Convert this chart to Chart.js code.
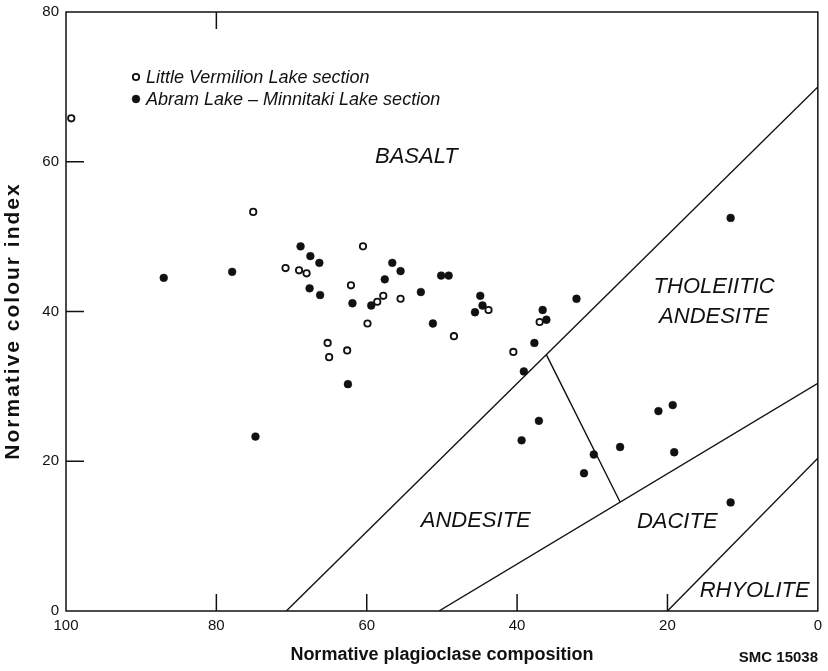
<!DOCTYPE html>
<html>
<head>
<meta charset="utf-8">
<script src="https://cdn.jsdelivr.net/npm/chart.js@4.4.1/dist/chart.umd.min.js"></script>
<style>
  html, body { margin: 0; padding: 0; background: #fff; }
</style>
</head>
<body>
<canvas id="chart" width="828" height="671"></canvas>
<script>
// Little Vermilion Lake section (open circles)
const lvPlag   = [99.3, 75.1, 70.8, 69.0, 68.0, 65.2, 65.0, 62.6, 60.5, 62.1, 59.9, 57.8, 58.6, 55.5, 48.4, 43.8, 40.5, 37.0]
const lvColour = [65.8, 53.3, 45.8, 45.5, 45.1, 35.8, 33.9, 34.8, 48.7, 43.5, 38.4, 42.1, 41.3, 41.7, 36.7, 40.2, 34.6, 38.6]

// Abram Lake - Minnitaki Lake section (filled dots)
const amPlag   = [87.0, 77.9, 74.8, 68.8, 67.5, 66.3, 67.6, 66.2, 62.5, 61.9, 59.4, 57.6, 56.6, 55.5, 52.8, 50.1, 49.1, 51.2,
                  44.9, 44.6, 45.6, 36.6, 36.1, 37.7, 39.1, 32.1, 11.6, 37.1, 39.4, 29.8, 31.1, 26.3, 21.2, 19.3, 19.1, 11.6]
const amColour = [44.5, 45.3, 23.3, 48.7, 47.4, 46.5, 43.1, 42.2, 30.3, 41.1, 40.8, 44.3, 46.5, 45.4, 42.6, 44.8, 44.8, 38.4,
                  42.1, 40.8, 39.9, 40.2, 38.9, 35.8, 32.0, 41.7, 52.5, 25.4, 22.8, 20.9, 18.4, 21.9, 26.7, 27.5, 21.2, 14.5]

// field boundaries: [plagioclase, colour index] end points
const basaltEdge   = [[70.7, 0], [0, 70]]
const daciteEdge   = [[50.4, 0], [0, 30.4]]
const rhyoliteEdge = [[20, 0], [0, 20.4]]
const tholeiiteEdge = [[36.1, 34.2], [26.3, 14.55]]

const xTicks = [100, 80, 60, 40, 20, 0]
const yTicks = [0, 20, 40, 60, 80]

const seriesNames = ['Little Vermilion Lake section', 'Abram Lake \u2013 Minnitaki Lake section']

// rock field names, placed in data units
const fieldNames = [
    { text: 'BASALT', x: 53.4, y: 60.6 },
    { text: 'THOLEIITIC', x: 13.8, y: 43.3 },
    { text: 'ANDESITE', x: 13.8, y: 39.3 },
    { text: 'ANDESITE', x: 45.5, y: 12.1 },
    { text: 'DACITE', x: 18.7, y: 11.9 },
    { text: 'RHYOLITE', x: 8.4, y: 2.7 },
]

const toPoints = (xs, ys) => xs.map((v, i) => ({ x: v, y: ys[i] }))
const toSegment = (seg) => seg.map(p => ({ x: p[0], y: p[1] }))

const ink = '#111'
const family = '"Liberation Sans", Arial, sans-serif'

const boundaryStyle = {
    type: 'line',
    showLine: true,
    borderColor: ink,
    borderWidth: 1.4,
    pointRadius: 0,
    fill: false,
}

// box round the plot plus the short inward tick marks
const frame = {
    id: 'frame',
    afterDatasetsDraw(chart) {
        const { ctx, chartArea: a, scales: { x, y } } = chart
        ctx.save()
        ctx.strokeStyle = ink
        ctx.lineWidth = 1.5
        ctx.strokeRect(a.left, a.top, a.right - a.left, a.bottom - a.top)
        ctx.beginPath()
        ;[80, 60, 40, 20].forEach(v => {
            const px = x.getPixelForValue(v)
            ctx.moveTo(px, a.bottom)
            ctx.lineTo(px, a.bottom - 17)
        })
        const topX = x.getPixelForValue(80)
        ctx.moveTo(topX, a.top)
        ctx.lineTo(topX, a.top + 17)
        ;[60, 40, 20].forEach(v => {
            const py = y.getPixelForValue(v)
            ctx.moveTo(a.left, py)
            ctx.lineTo(a.left + 18, py)
        })
        ctx.stroke()
        ctx.restore()
    }
}

const fieldLabels = {
    id: 'fieldLabels',
    afterDatasetsDraw(chart) {
        const { ctx, scales: { x, y } } = chart
        ctx.save()
        ctx.fillStyle = ink
        ctx.font = 'italic 22px ' + family
        ctx.textAlign = 'center'
        ctx.textBaseline = 'middle'
        fieldNames.forEach(f => ctx.fillText(f.text, x.getPixelForValue(f.x), y.getPixelForValue(f.y)))

        // legend, top left of the plot
        const ds = chart.data.datasets
        ctx.textAlign = 'left'
        ctx.font = 'italic 18px ' + family
        ;[0, 1].forEach(i => {
            const ly = 77 + i * 22
            ctx.beginPath()
            ctx.arc(136, ly, ds[i].pointRadius, 0, Math.PI * 2)
            ctx.fillStyle = ds[i].pointBackgroundColor
            ctx.fill()
            ctx.lineWidth = ds[i].pointBorderWidth
            ctx.strokeStyle = ink
            ctx.stroke()
            ctx.fillStyle = ink
            ctx.fillText(seriesNames[i], 146, ly + 1)
        })

        ctx.font = 'bold 15px ' + family
        ctx.textAlign = 'right'
        ctx.fillText('SMC 15038', 818, 658)

        // y axis title
        ctx.translate(13, 321)
        ctx.rotate(-Math.PI / 2)
        ctx.textAlign = 'center'
        ctx.font = 'bold 21px ' + family
        ctx.letterSpacing = '2px'
        ctx.fillText('Normative colour index', 0, 0)
        ctx.restore()
    }
}

const ctx = document.getElementById('chart').getContext('2d')
const chart = new Chart(ctx, {
    type: 'scatter',
    data: {
        datasets: [{
            label: seriesNames[0],
            data: toPoints(lvPlag, lvColour),
            pointRadius: 3.2,
            pointBorderWidth: 1.8,
            pointBackgroundColor: '#fff',
            pointBorderColor: ink,
        }, {
            label: seriesNames[1],
            data: toPoints(amPlag, amColour),
            pointRadius: 3.9,
            pointBorderWidth: 0.5,
            pointBackgroundColor: ink,
            pointBorderColor: ink,
        },
        Object.assign({ data: toSegment(basaltEdge) }, boundaryStyle),
        Object.assign({ data: toSegment(daciteEdge) }, boundaryStyle),
        Object.assign({ data: toSegment(rhyoliteEdge) }, boundaryStyle),
        Object.assign({ data: toSegment(tholeiiteEdge) }, boundaryStyle),
        ]
    },
    options: {
        responsive: false,
        animation: false,
        layout: { padding: { top: 12, right: 8, left: 0, bottom: 0 } },
        plugins: {
            legend: { display: false },
            tooltip: { enabled: false },
        },
        scales: {
            x: {
                type: 'linear',
                reverse: true,
                min: 0,
                max: 100,
                afterFit(scale) { scale.height = 60 },
                afterBuildTicks(scale) { scale.ticks = xTicks.map(v => ({ value: v })) },
                grid: { display: false, drawTicks: false },
                border: { display: false },
                ticks: {
                    padding: 6,
                    color: ink,
                    font: { family: family, size: 15 },
                },
                title: {
                    display: true,
                    text: 'Normative plagioclase composition',
                    color: ink,
                    padding: { top: 0, bottom: 5 },
                    font: { family: family, size: 18, weight: 'bold' },
                },
            },
            y: {
                type: 'linear',
                min: 0,
                max: 80,
                afterFit(scale) {
                    scale.width = 66
                    scale.paddingTop = 0
                    scale.paddingBottom = 0
                },
                afterBuildTicks(scale) { scale.ticks = yTicks.map(v => ({ value: v })) },
                grid: { display: false, drawTicks: false },
                border: { display: false },
                ticks: {
                    padding: 7,
                    color: ink,
                    font: { family: family, size: 15 },
                },
            },
        },
    },
    plugins: [frame, fieldLabels],
})
</script>
</body>
</html>
